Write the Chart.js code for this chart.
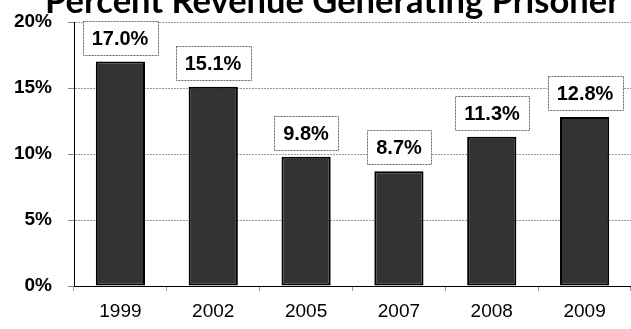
<!DOCTYPE html>
<html>
<head>
<meta charset="utf-8">
<script src="https://cdn.jsdelivr.net/npm/chart.js@4/dist/chart.umd.min.js"></script>
<style>
  html, body { margin: 0; padding: 0; background: #ffffff; overflow: hidden; }
  #wrap { position: absolute; left: 0; top: 0; width: 631px; height: 329px; }
</style>
</head>
<body>
<div id="wrap"><canvas id="c"></canvas></div>
<script>
const titleText = 'Percent Revenue Generating Prisoner';
const categories = ['1999', '2002', '2005', '2007', '2008', '2009'];
const percentValues = [17.0, 15.1, 9.8, 8.7, 11.3, 12.8];
const yTickValues = [0, 5, 10, 15, 20];

const clippedTitle = {
  id: 'clippedTitle',
  afterDraw(chart) {
    const ctx = chart.ctx;
    ctx.save();
    ctx.font = 'bold 34.5px Lato';
    ctx.fillStyle = '#000';
    ctx.textAlign = 'left';
    ctx.textBaseline = 'alphabetic';
    ctx.fillText(titleText, 45, 13);
    ctx.restore();
  }
};

const boxLabels = {
  id: 'boxLabels',
  afterDatasetsDraw(chart) {
    const ctx = chart.ctx;
    const meta = chart.getDatasetMeta(0);
    ctx.save();
    ctx.font = 'bold 20px "Liberation Sans", Arial, sans-serif';
    ctx.textAlign = 'center';
    ctx.textBaseline = 'middle';
    meta.data.forEach((bar, i) => {
      const txt = percentValues[i].toFixed(1) + '%';
      const w = Math.round(ctx.measureText(txt).width + 18);
      const h = 34;
      const cx = Math.round(bar.x);
      const bottom = Math.round(bar.y) - 7;
      const left = cx - w / 2, top = bottom - h;
      ctx.fillStyle = '#fff';
      ctx.fillRect(left, top, w, h);
      ctx.setLineDash([2, 1]);
      ctx.lineWidth = 1;
      ctx.strokeStyle = '#666';
      ctx.strokeRect(Math.round(left) + 0.5, top + 0.5, w, h);
      ctx.setLineDash([]);
      ctx.fillStyle = '#000';
      ctx.fillText(txt, cx, top + h / 2 + 1);
    });
    ctx.restore();
  }
};

new Chart(document.getElementById('c'), {
  type: 'bar',
  data: {
    labels: categories,
    datasets: [{
      data: percentValues,
      backgroundColor: '#333333',
      borderColor: '#000000',
      borderWidth: 2,
      borderSkipped: false,
      barPercentage: 0.53,
      categoryPercentage: 1.0
    }]
  },
  options: {
    responsive: true,
    maintainAspectRatio: false,
    animation: false,
    layout: { padding: { top: 22, right: 0, left: 0, bottom: 0 } },
    plugins: {
      legend: { display: false },
      title: { display: false },
      tooltip: { enabled: false }
    },
    scales: {
      x: {
        afterFit(scale) { scale.height = 43; scale.paddingLeft = 0; scale.paddingRight = 0; },
        grid: {
          offset: true,
          drawOnChartArea: false,
          drawTicks: true,
          tickLength: 5,
          tickColor: '#999'
        },
        border: { display: true, color: '#000', width: 1 },
        ticks: {
          color: '#000',
          padding: 9,
          font: { family: '"Liberation Sans", Arial, sans-serif', size: 19 }
        }
      },
      y: {
        min: 0,
        max: 20,
        afterFit(scale) { scale.width = 74; scale.paddingTop = 0; scale.paddingBottom = 0; },
        afterBuildTicks(scale) { scale.ticks = yTickValues.map(v => ({ value: v })); },
        grid: {
          color: '#999',
          lineWidth: 1,
          drawTicks: true,
          tickLength: 6,
          tickColor: '#888'
        },
        border: { display: true, color: '#000', width: 1, dash: [2, 1] },
        ticks: {
          color: '#000',
          padding: 16,
          font: { family: '"Liberation Sans", Arial, sans-serif', size: 19, weight: 'bold' },
          callback: (v) => v + '%'
        }
      }
    }
  },
  plugins: [boxLabels, clippedTitle]
});
</script>
</body>
</html>
